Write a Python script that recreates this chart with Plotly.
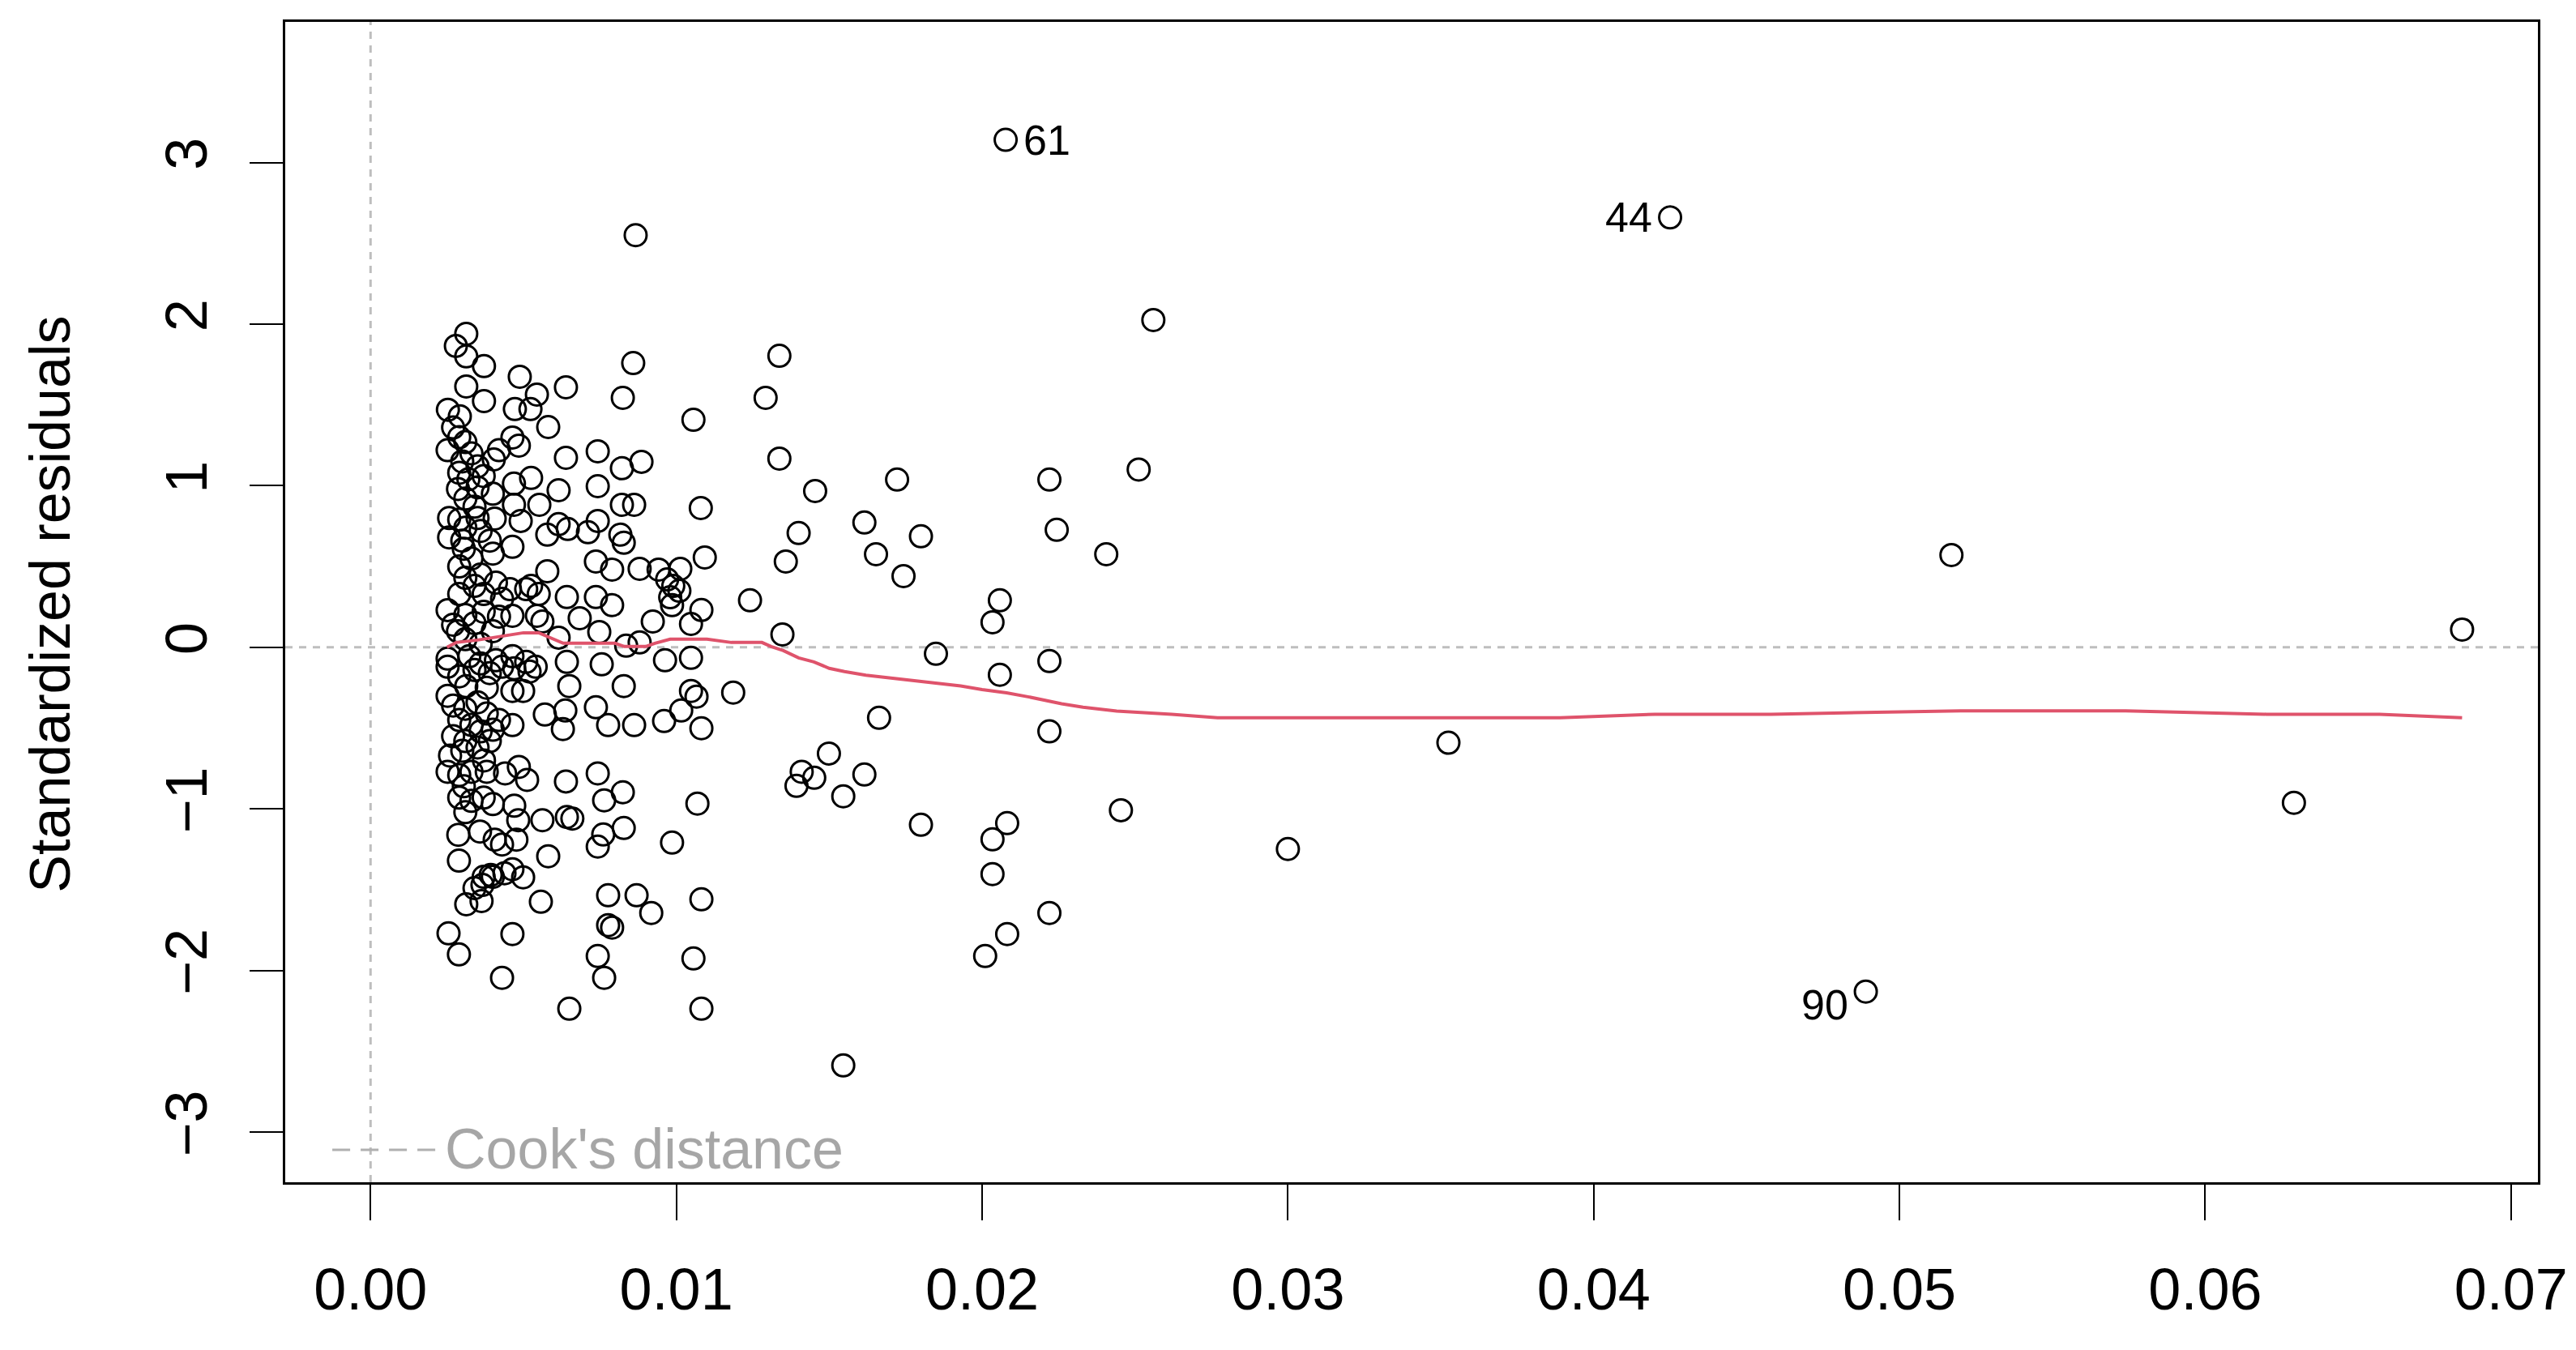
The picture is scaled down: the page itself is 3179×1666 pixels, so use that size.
import plotly.graph_objects as go

# leverage / standardized residuals
# first three are the labelled points 61, 44, 90
leverage = [
    0.02077, 0.0425, 0.0489,
    # sparse, right side
    0.0256, 0.01454, 0.01722, 0.0222, 0.02512, 0.01615, 0.0180, 0.01653, 0.01743,
    0.02244, 0.02406, 0.02058, 0.02034, 0.01849, 0.0222, 0.02058, 0.01663, 0.0222,
    0.01499, 0.01451, 0.0141, 0.01393, 0.01615, 0.01546, 0.0180, 0.02082, 0.02034,
    0.02034, 0.02454, 0.0222, 0.02082, 0.0201, 0.01546, 0.0517, 0.0684, 0.0629,
    0.03525, 0.0300,
    # middle
    0.01337, 0.01292, 0.01056, 0.01337, 0.0108, 0.0140, 0.01358, 0.01093, 0.01241,
    0.01347, 0.01048, 0.00963, 0.01048, 0.01066, 0.01186, 0.0096, 0.01016, 0.01082,
    0.01069, 0.00986, 0.01082, 0.01056, 0.01082, 0.01013, 0.00942, 0.0097, 0.0099,
    0.0101, 0.0098, 0.00986, 0.01082, 0.01048, 0.00923,
    # mid-left
    0.00867, 0.00859, 0.00825, 0.00639, 0.00639, 0.00743, 0.00822, 0.00886, 0.00743,
    0.00615, 0.00822, 0.00862, 0.00743, 0.00711, 0.00817, 0.00828, 0.00737, 0.0079,
    0.0088, 0.00642, 0.00737, 0.0079, 0.00684, 0.00748, 0.00615, 0.00836, 0.0088,
    0.00642, 0.00756, 0.0065, 0.00828, 0.00637, 0.00629, 0.00737, 0.00777, 0.00862,
    0.00639, 0.00743, 0.00825, 0.00764, 0.00642, 0.0066, 0.00761, 0.00828, 0.00743,
    0.0087, 0.00918, 0.00777, 0.00777, 0.0079, 0.00743, 0.00764, 0.0065,
    # left-middle
    0.00488, 0.00544, 0.00472, 0.00523, 0.00581, 0.00525, 0.00469, 0.00485, 0.00464,
    0.00469, 0.00491, 0.00552, 0.00615, 0.00645, 0.00578, 0.00464, 0.00578, 0.00509,
    0.00525, 0.0055, 0.00456, 0.00464, 0.00544, 0.00562, 0.00464, 0.00509, 0.0047,
    0.0052, 0.0054, 0.00464, 0.00499, 0.0057, 0.00464, 0.00485, 0.00512, 0.00483,
    0.00562, 0.00477, 0.00581, 0.00464, 0.00499, 0.00557, 0.00464, 0.0047,
    # dense column, upper
    0.00313, 0.00279, 0.00313, 0.00371, 0.00313, 0.00371, 0.00253, 0.00292, 0.0027,
    0.0029, 0.0031, 0.00252, 0.0033, 0.0042, 0.0030, 0.0035, 0.00403, 0.0029,
    0.0032, 0.0037, 0.00286, 0.0035, 0.0040, 0.0031, 0.0034, 0.00257, 0.0029,
    0.0035, 0.00406, 0.0031, 0.0036, 0.00257, 0.0030, 0.0039, 0.00305, 0.0033,
    0.0040, 0.0029, 0.0036, 0.0031, 0.0041, 0.0034, 0.0029, 0.0037, 0.0043,
    0.00252, 0.0031, 0.0037, 0.0042, 0.0027, 0.0034, 0.00286, 0.0040, 0.0031,
    0.0036,
    # dense column, lower
    0.00252, 0.00323, 0.0036, 0.0041, 0.00252, 0.0029, 0.0034, 0.0039, 0.0043,
    0.00313, 0.0038, 0.00252, 0.0027, 0.0031, 0.0035, 0.0038, 0.0029, 0.0033,
    0.0042, 0.0036, 0.0040, 0.0027, 0.0031, 0.0035, 0.0039, 0.0026, 0.0030,
    0.00371, 0.00252, 0.0029, 0.0033, 0.0038, 0.0044, 0.00305, 0.0029, 0.0033,
    0.0037, 0.0040, 0.0031, 0.00287, 0.00358, 0.00406, 0.0043, 0.00289, 0.0037,
    0.0040, 0.00438, 0.00393, 0.0034, 0.00366, 0.00313, 0.00363, 0.00255, 0.00289,
    0.0043,
]

std_resid = [
    3.14, 2.66, -2.13,
    2.025, 0.967, 1.038, 1.038, 1.10, 0.772, 0.687, 0.576, 0.441,
    0.727, 0.576, 0.291, 0.155, -0.04, -0.085, -0.17, -0.436, -0.52,
    -0.657, -0.807, -0.77, -0.857, -0.787, -0.922, -1.098, -1.088, -1.188,
    -1.403, -1.008, -1.644, -1.774, -1.91, -2.587, 0.571, 0.11, -0.962,
    -0.59, -1.248,
    1.804, 1.544, 1.408, 1.168, 0.862, 0.707, 0.531, 0.556, 0.291,
    0.08, -0.065, -0.08, -0.27, -0.305, -0.28, -0.456, -0.391, -0.501,
    -0.967, -1.208, -1.559, -1.925, -2.236, 0.486, 0.481, 0.42, 0.38,
    0.35, 0.31, 0.261, 0.231, 0.145, 0.16,
    2.55, 1.759, 1.544, 1.609, 1.173, 1.213, 1.108, 1.148, 0.997,
    0.972, 0.882, 0.882, 0.782, 0.712, 0.697, 0.647, 0.531, 0.481,
    0.486, 0.311, 0.311, 0.261, 0.18, 0.095, 0.06, 0.01, 0.03,
    -0.09, -0.105, -0.24, -0.24, -0.391, -0.506, -0.371, -0.481, -0.481,
    -0.83, -0.78, -0.897, -0.947, -1.05, -1.06, -1.158, -1.118, -1.233,
    -1.534, -1.644, -1.534, -1.719, -1.734, -1.91, -2.045, -2.236,
    1.674, 1.564, 1.474, 1.474, 1.363, 1.048, 1.013, 1.248, 1.298,
    0.882, 0.782, 0.882, 0.762, 0.732, 0.697, 0.622, 0.471, 0.36,
    0.38, 0.33, 0.36, 0.195, 0.195, 0.16, -0.055, -0.09, -0.13,
    -0.15, -0.12, -0.27, -0.27, -0.416, -0.481, -0.74, -0.82, -1.07,
    -1.07, -1.19, -1.293, -1.373, -1.423, -1.574, -1.774, -0.98,
    1.94, 1.865, 1.80, 1.74, 1.614, 1.524, 1.47, 1.43, 1.36,
    1.30, 1.27, 1.22, 1.20, 1.22, 1.15, 1.12, 1.163, 1.08,
    1.04, 1.06, 0.98, 0.99, 0.95, 0.92, 0.87, 0.80, 0.79,
    0.80, 0.797, 0.74, 0.72, 0.68, 0.66, 0.66, 0.61, 0.55,
    0.58, 0.50, 0.45, 0.43, 0.40, 0.38, 0.33, 0.33, 0.30,
    0.23, 0.20, 0.22, 0.19, 0.14, 0.15, 0.10, 0.10, 0.05,
    0.02,
    -0.07, -0.055, -0.10, -0.08, -0.12, -0.18, -0.14, -0.16, -0.12,
    -0.24, -0.25, -0.30, -0.36, -0.38, -0.34, -0.41, -0.45, -0.48,
    -0.45, -0.52, -0.51, -0.55, -0.58, -0.62, -0.58, -0.67, -0.64,
    -0.70, -0.77, -0.79, -0.77, -0.77, -0.78, -0.86, -0.93, -0.95,
    -0.93, -0.97, -1.02, -1.16, -1.14, -1.19, -1.22, -1.32, -1.42,
    -1.42, -1.398, -1.408, -1.49, -1.47, -1.59, -1.57, -1.77, -1.90,
    -2.045,
]

label_idx = [0, 1, 2]
label_text = ["61", "44", "90"]
label_side = ["right", "left", "left"]

# smoother (red line)
smooth_lev = [0.0025, 0.0028, 0.0035, 0.0043, 0.0050, 0.0055, 0.0059, 0.0063, 0.0080,
              0.0083, 0.0090, 0.0093, 0.0098, 0.0110, 0.0118, 0.0128, 0.0131, 0.0135,
              0.0140, 0.0145, 0.0150, 0.0155, 0.0162, 0.0172, 0.0183, 0.0193, 0.0200,
              0.0208, 0.0215, 0.0220, 0.0226, 0.0233, 0.0244, 0.0262, 0.0277, 0.0330,
              0.0389, 0.0420, 0.0458, 0.0520, 0.0574, 0.0620, 0.0657, 0.0684]
smooth_res = [0.0, 0.03, 0.045, 0.07, 0.09, 0.09, 0.055, 0.025, 0.025,
              0.005, 0.005, 0.025, 0.05, 0.05, 0.03, 0.03, 0.005, -0.02,
              -0.065, -0.09, -0.13, -0.15, -0.172, -0.194, -0.217, -0.239, -0.261,
              -0.282, -0.306, -0.326, -0.349, -0.371, -0.394, -0.414, -0.436, -0.436,
              -0.436, -0.414, -0.414, -0.393, -0.393, -0.414, -0.414, -0.436]

x_ticks = [0.00, 0.01, 0.02, 0.03, 0.04, 0.05, 0.06, 0.07]
x_ticktext = ["0.00", "0.01", "0.02", "0.03", "0.04", "0.05", "0.06", "0.07"]
y_ticks = [-3, -2, -1, 0, 1, 2, 3]

FONT = "Liberation Sans, Arial, sans-serif"

fig = go.Figure()

fig.add_trace(go.Scatter(
    x=leverage, y=std_resid, mode="markers",
    marker=dict(symbol="circle-open", size=27, color="black", line=dict(width=3)),
    showlegend=False, hoverinfo="skip",
))

fig.add_trace(go.Scatter(
    x=smooth_lev, y=smooth_res, mode="lines",
    line=dict(color="#DF536B", width=4),
    showlegend=False, hoverinfo="skip",
))

# dotted reference lines at 0
fig.add_shape(type="line", xref="paper", yref="y", x0=0, x1=1, y0=0, y1=0,
              line=dict(color="#BEBEBE", width=3, dash="9px,8px"), layer="below")
fig.add_shape(type="line", xref="x", yref="paper", x0=0, x1=0, y0=0, y1=1,
              line=dict(color="#BEBEBE", width=3, dash="9px,8px"), layer="below")

# point labels
for i, t, side in zip(label_idx, label_text, label_side):
    fig.add_annotation(
        x=leverage[i], y=std_resid[i], text=t, showarrow=False,
        xanchor="left" if side == "right" else "right",
        xshift=20 if side == "right" else -20,
        yshift=-16 if t == "90" else 0,
        font=dict(family=FONT, size=52, color="black"),
    )

# Cook's distance legend (bottom left)
fig.add_shape(type="line", xref="paper", yref="paper", x0=0.0209, x1=0.0666,
              y0=0.0279, y1=0.0279, line=dict(color="#B0B0B0", width=3, dash="22px,13px"))
fig.add_annotation(xref="paper", yref="paper", x=0.0700, y=0.0286, text="Cook's distance",
                   showarrow=False, xanchor="left", yanchor="middle",
                   font=dict(family=FONT, size=70, color="#A6A6A6"))

# y axis title
fig.add_annotation(xref="paper", yref="paper", x=-0.1044, y=0.498, text="Standardized residuals",
                   showarrow=False, textangle=-90, xanchor="center", yanchor="middle",
                   font=dict(family=FONT, size=70, color="black"))

fig.update_xaxes(
    range=[-0.00279, 0.07088], tickvals=x_ticks, ticktext=x_ticktext,
    ticks="outside", ticklen=44, tickwidth=2, tickcolor="black",
    showline=True, linewidth=3, linecolor="black", mirror=True,
    showgrid=False, zeroline=False, ticklabelstandoff=24,
    tickfont=dict(family=FONT, size=72, color="black"),
)
fig.update_yaxes(
    range=[-3.31, 3.87], tickvals=y_ticks, tickangle=-90,
    ticks="outside", ticklen=41, tickwidth=2, tickcolor="black",
    showline=True, linewidth=3, linecolor="black", mirror=True,
    showgrid=False, zeroline=False, ticklabelstandoff=24,
    tickfont=dict(family=FONT, size=72, color="black"),
)

fig.update_layout(
    width=3179, height=1666,
    margin=dict(l=344, r=55, t=19, b=215),
    paper_bgcolor="white", plot_bgcolor="white",
    font=dict(family=FONT),
)

fig.write_html("out.html")
